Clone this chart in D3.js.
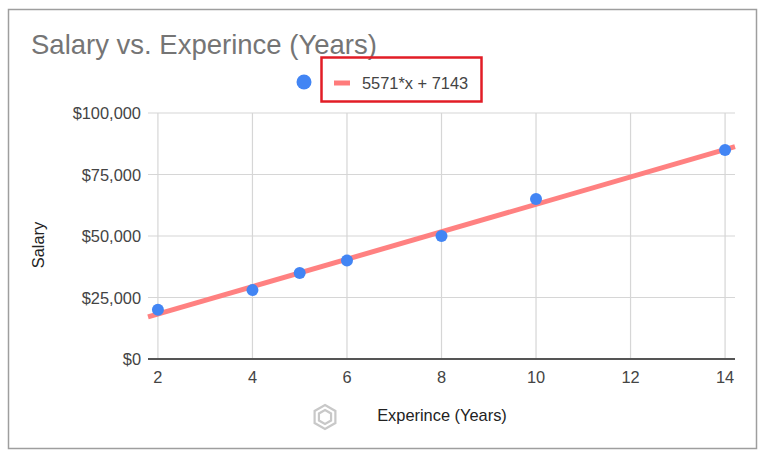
<!DOCTYPE html>
<html><head><meta charset="utf-8">
<script src="https://cdn.jsdelivr.net/npm/d3@7"></script>
<style>body{margin:0;background:#fff;font-family:Arial,"Liberation Sans",sans-serif;}</style>
</head><body><svg id="c" width="766" height="459"></svg>
<script>
const experience = [2, 4, 5, 6, 8, 10, 14];
const salary = [20000, 28000, 35000, 40000, 50000, 65000, 85000];
const xTicks = [2, 4, 6, 8, 10, 12, 14];
const yTicks = [0, 25000, 50000, 75000, 100000];
const trendSlope = 5571, trendIntercept = 7143;
const title = "Salary vs. Experince (Years)";
const legendLabel = "5571*x + 7143";

const svg = d3.select("#c");
svg.append("rect").attr("x",8.5).attr("y",9.5).attr("width",748).attr("height",439)
  .attr("fill","#fff").attr("stroke","#9e9e9e").attr("stroke-width",1.5);

const x = d3.scaleLinear().domain([1.79, 14.21]).range([148, 735]);
const y = d3.scaleLinear().domain([0, 100000]).range([359, 113]);

svg.append("text").attr("x",31).attr("y",54).attr("font-size",27.5).attr("fill","#757575").text(title);

// grid
const g = svg.append("g");
g.selectAll(".hg").data(yTicks.filter(d=>d>0)).join("line")
  .attr("x1",x.range()[0]).attr("x2",x.range()[1]).attr("y1",d=>y(d)).attr("y2",d=>y(d))
  .attr("stroke","#d6d6d6").attr("stroke-width",1.2);
g.selectAll(".vg").data(xTicks).join("line")
  .attr("x1",d=>x(d)).attr("x2",d=>x(d)).attr("y1",y.range()[1]).attr("y2",y.range()[0])
  .attr("stroke","#d6d6d6").attr("stroke-width",1.2);
g.append("line").attr("x1",x.range()[0]).attr("x2",x.range()[1]).attr("y1",y(0)).attr("y2",y(0))
  .attr("stroke","#555").attr("stroke-width",1.8);

// labels
const fmt = d => "$" + d3.format(",")(d);
svg.selectAll(".yl").data(yTicks).join("text")
  .attr("x",141).attr("y",d=>y(d)+6).attr("text-anchor","end").attr("font-size",16.4).attr("fill","#444").text(fmt);
svg.selectAll(".xl").data(xTicks).join("text")
  .attr("x",d=>x(d)).attr("y",383).attr("text-anchor","middle").attr("font-size",16.4).attr("fill","#444").text(d=>d);

// watermark logo (faint hexagon icon)
const wm = svg.append("g").attr("transform","translate(325,417)").attr("fill","none").attr("stroke","#c8c8c8").attr("stroke-width",2.2);
const hex = r => d3.range(6).map(i=>[r*Math.cos(Math.PI/3*i-Math.PI/2), r*Math.sin(Math.PI/3*i-Math.PI/2)]);
wm.append("path").attr("d", d3.line()(hex(12))+"Z");
wm.append("path").attr("d", d3.line()(hex(7))+"Z");

svg.append("text").attr("x",442).attr("y",421).attr("text-anchor","middle").attr("font-size",16.4).attr("fill","#222").text("Experince (Years)");
svg.append("text").attr("transform","translate(44,245) rotate(-90)").attr("text-anchor","middle").attr("font-size",16.4).attr("fill","#222").text("Salary");

// trendline
const xd = x.domain();
svg.append("line").attr("x1",x(xd[0])).attr("y1",y(trendSlope*xd[0]+trendIntercept))
  .attr("x2",x(xd[1])).attr("y2",y(trendSlope*xd[1]+trendIntercept))
  .attr("stroke","#ff7b7b").attr("stroke-width",5).attr("opacity",0.95);

svg.selectAll(".pt").data(experience.map((e,i)=>[e,salary[i]])).join("circle")
  .attr("cx",d=>x(d[0])).attr("cy",d=>y(d[1])).attr("r",6).attr("fill","#4285f4");

// legend
svg.append("circle").attr("cx",304).attr("cy",82).attr("r",7.5).attr("fill","#4285f4");
svg.append("line").attr("x1",334).attr("x2",350).attr("y1",83).attr("y2",83).attr("stroke","#ff7b7b").attr("stroke-width",5);
svg.append("text").attr("x",362).attr("y",89).attr("font-size",16.4).attr("fill","#444").text(legendLabel);
svg.append("rect").attr("x",321.5).attr("y",57.5).attr("width",160).attr("height",44)
  .attr("fill","none").attr("stroke","#e21d26").attr("stroke-width",2.5);
</script></body></html>
